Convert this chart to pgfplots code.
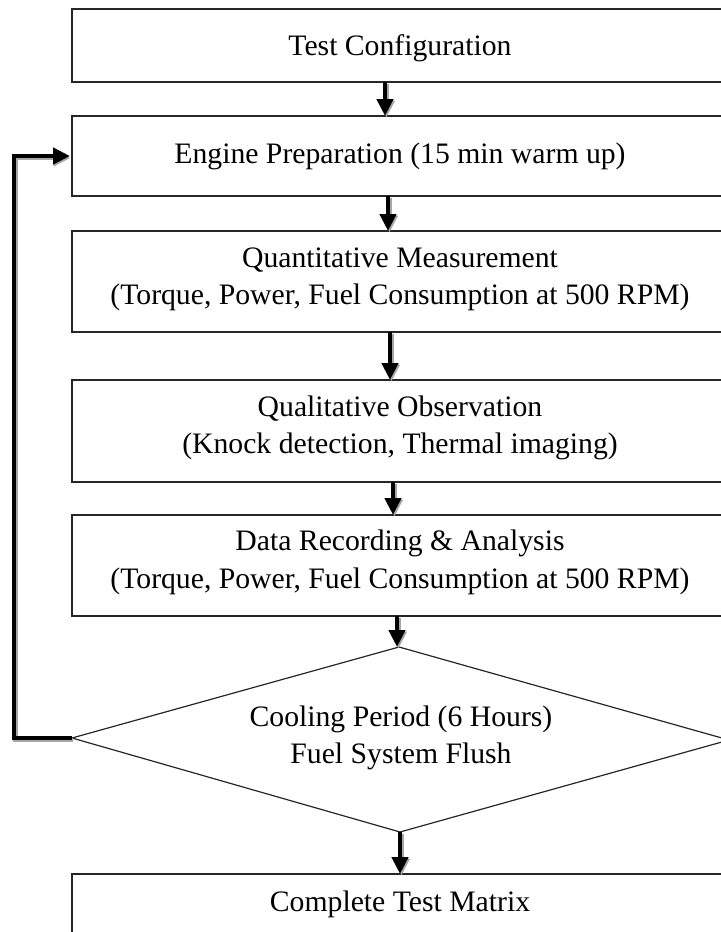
\documentclass[border=0pt]{standalone}
\usepackage{fontspec}
\setmainfont{Liberation Serif}
\usepackage{pgfplots}
\pgfplotsset{compat=1.18}
\usetikzlibrary{arrows.meta}
\begin{document}
\begin{tikzpicture}
\begin{axis}[
  scale only axis, width=360.5pt, height=466pt,
  xmin=0, xmax=721, ymin=0, ymax=932, y dir=reverse,
  hide axis, clip=true,
]
\addplot[draw=none] coordinates {(0,0) (721,932)};
% boxes
\pgfplotsset{boxst/.style={black!85, line width=0.6pt}}
\addplot[boxst] coordinates {(740,9) (72,9) (72,82) (740,82)};
\addplot[boxst] coordinates {(740,116) (72,116) (72,196) (740,196)};
\addplot[boxst] coordinates {(740,231) (72,231) (72,332) (740,332)};
\addplot[boxst] coordinates {(740,380) (72,380) (72,482) (740,482)};
\addplot[boxst] coordinates {(740,515) (72,515) (72,616) (740,616)};
\addplot[boxst] coordinates {(399,647) (729,740) (400,832) (72,738) (399,647)};
\addplot[boxst] coordinates {(740,874) (72,874) (72,945) (740,945)};
% arrow shadows
\pgfplotsset{shad/.style={black!35, line width=2.3pt, -{Triangle[width=8pt,length=8.5pt]}},
             arr/.style={black, line width=2.3pt, -{Triangle[width=8pt,length=8.5pt]}}}
\addplot[shad] coordinates {(386.5,83.5) (386.5,117.5)};
\addplot[shad] coordinates {(389.5,197.5) (389.5,232.5)};
\addplot[shad] coordinates {(391.5,333.5) (391.5,381.5)};
\addplot[shad] coordinates {(394.5,483.5) (394.5,516.5)};
\addplot[shad] coordinates {(398.5,617.5) (398.5,648.5)};
\addplot[shad] coordinates {(401.5,833.5) (401.5,875.5)};
\addplot[black!35, line width=2.2pt, -{Triangle[width=8pt,length=8.5pt]}] coordinates {(73,740) (15.5,740) (15.5,158) (70.5,158)};
% arrows
\addplot[arr] coordinates {(385,82) (385,116)};
\addplot[arr] coordinates {(388,196) (388,231)};
\addplot[arr] coordinates {(390,332) (390,380)};
\addplot[arr] coordinates {(393,482) (393,515)};
\addplot[arr] coordinates {(397,616) (397,647)};
\addplot[arr] coordinates {(400,832) (400,874)};
\addplot[black, line width=2.2pt, -{Triangle[width=8pt,length=8.5pt]}] coordinates {(72,738) (14,738) (14,156) (70,156)};
% texts
\tikzset{t/.style={anchor=base, inner sep=0pt, font=\fontsize{14.85}{17}\selectfont}}
\node[t] at (400,55) {Test Configuration};
\node[t] at (400,163) {Engine Preparation (15 min warm up)};
\node[t] at (400,267) {Quantitative Measurement};
\node[t] at (400,304) {(Torque, Power, Fuel Consumption at 500 RPM)};
\node[t] at (400,416) {Qualitative Observation};
\node[t] at (400,453) {(Knock detection, Thermal imaging)};
\node[t] at (400,550) {Data Recording \& Analysis};
\node[t] at (400,588) {(Torque, Power, Fuel Consumption at 500 RPM)};
\node[t] at (401,726) {Cooling Period (6 Hours)};
\node[t] at (401,763) {Fuel System Flush};
\node[t] at (400,911) {Complete Test Matrix};
\end{axis}
\end{tikzpicture}
\end{document}
